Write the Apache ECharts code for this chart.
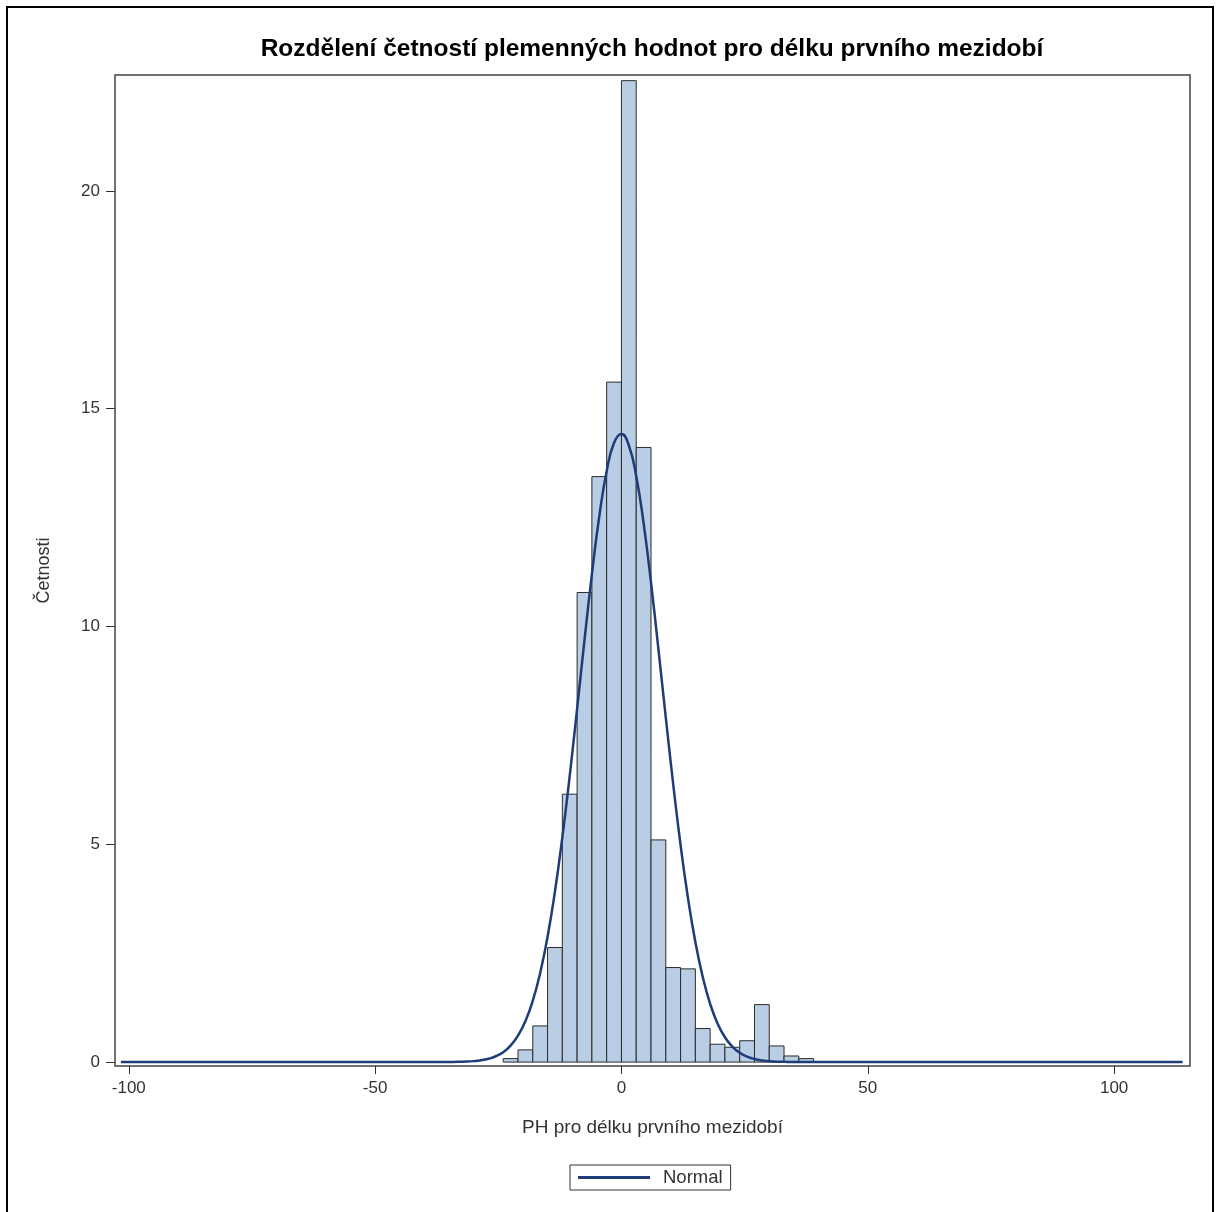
<!DOCTYPE html>
<html>
<head>
<meta charset="utf-8">
<script src="https://cdn.jsdelivr.net/npm/echarts@6/dist/echarts.min.js"></script>
<style>
html,body{margin:0;padding:0;background:#fff;}
#chart{width:1222px;height:1212px;}
</style>
</head>
<body>
<div id="chart"></div>
<script>
// ---- Data ----
const titleText = 'Rozdělení četností plemenných hodnot pro délku prvního mezidobí';
const xAxisName = 'PH pro délku prvního mezidobí';
const yAxisName = 'Četnosti';
const xTicks = [-100, -50, 0, 50, 100];
const yTicks = [0, 5, 10, 15, 20];

// Histogram bins (lower edge, width 3) and percent frequencies
const binWidth = 3;
const binLeft = [-24, -21, -18, -15, -12, -9, -6, -3, 0, 3, 6, 9, 12, 15, 18, 21, 24, 27, 30, 33, 36];
const binPct  = [0.08, 0.28, 0.83, 2.63, 6.15, 10.78, 13.44, 15.61, 22.53, 14.11, 5.10, 2.17, 2.14, 0.77, 0.41, 0.34, 0.49, 1.32, 0.37, 0.14, 0.08];

// Fitted "Normal" curve points
const normalX = [-101.6, -38, -33, -31.5, -30, -28.5, -27, -25.5, -24, -22.5, -21, -19.5, -18, -16.5, -15, -13.5, -12, -10.5, -9, -7.5, -6, -4.5, -3, -1.5, 0,
                 1.5, 3, 4.5, 6, 7.5, 9, 10.5, 12, 13.5, 15, 16.5, 18, 19.5, 21, 22.5, 24, 25.5, 27, 28.5, 30, 31.5, 33, 38, 113.9];
const normalY = [0, 0.001, 0.006, 0.011, 0.022, 0.041, 0.076, 0.134, 0.228, 0.378, 0.606, 0.939, 1.409, 2.047, 2.878, 3.917, 5.160, 6.577, 8.115, 9.691, 11.201, 12.530, 13.566, 14.216, 14.419,
                 14.155, 13.448, 12.367, 11.007, 9.482, 7.906, 6.380, 4.983, 3.767, 2.756, 1.952, 1.337, 0.887, 0.570, 0.354, 0.213, 0.124, 0.070, 0.038, 0.021, 0.010, 0.005, 0.001, 0];

// ---- Build options ----
const histData = binLeft.map((l, i) => [l, l + binWidth, binPct[i]]);
const lineData = normalX.map((x, i) => [x, normalY[i]]);
const FONT = '"Liberation Sans", Arial, sans-serif';
const LINE_COLOR = '#1d3c78';

const chart = echarts.init(document.getElementById('chart'), null, {renderer: 'canvas'});
chart.setOption({
  backgroundColor: '#ffffff',
  animation: false,
  title: {
    text: titleText,
    left: 647, top: 32, textAlign: 'center',
    textStyle: {fontFamily: FONT, fontSize: 24.5, fontWeight: 'bold', color: '#000'}
  },
  graphic: [{
    type: 'rect', silent: true,
    shape: {x: 7, y: 7, width: 1206, height: 1220},
    style: {fill: 'none', stroke: '#000', lineWidth: 2}
  }],
  legend: {
    data: [{name: 'Normal', icon: 'rect'}],
    left: 570, top: 1165,
    orient: 'horizontal',
    borderColor: '#333', borderWidth: 1,
    padding: [3, 8, 3, 8],
    itemWidth: 72, itemHeight: 3,
    textStyle: {fontFamily: FONT, fontSize: 18.5, color: '#333', padding: [0, 0, 0, 8]}
  },
  grid: {
    left: 115, right: 32, top: 75, bottom: 146,
    show: true, borderColor: '#444', borderWidth: 1.5, backgroundColor: '#fff'
  },
  xAxis: {
    type: 'value',
    min: -102.8, max: 115.4,
    name: xAxisName, nameLocation: 'middle', nameGap: 52,
    nameTextStyle: {fontFamily: FONT, fontSize: 19, color: '#333'},
    axisLine: {show: false, onZero: false},
    axisTick: {show: true, customValues: xTicks, length: 8, lineStyle: {color: '#333'}},
    axisLabel: {customValues: xTicks, margin: 14, fontFamily: FONT, fontSize: 17, color: '#333'},
    splitLine: {show: false}
  },
  yAxis: {
    type: 'value',
    min: -0.09, max: 22.66,
    name: yAxisName, nameLocation: 'middle', nameGap: 62,
    nameTextStyle: {fontFamily: FONT, fontSize: 18, color: '#333'},
    axisLine: {show: false, onZero: false},
    axisTick: {show: true, customValues: yTicks, length: 9, lineStyle: {color: '#333'}},
    axisLabel: {customValues: yTicks, margin: 15, fontFamily: FONT, fontSize: 17, color: '#333'},
    splitLine: {show: false}
  },
  series: [{
    type: 'custom',
    name: 'hist',
    data: histData,
    encode: {x: [0, 1], y: 2},
    renderItem: function (params, api) {
      const p0 = api.coord([api.value(0), 0]);
      const p1 = api.coord([api.value(1), api.value(2)]);
      return {
        type: 'rect',
        shape: {x: p0[0], y: p1[1], width: p1[0] - p0[0], height: p0[1] - p1[1]},
        style: {fill: '#b9cde5', stroke: '#2b2b2b', lineWidth: 1}
      };
    },
    z: 2
  }, {
    type: 'line',
    name: 'Normal',
    data: lineData,
    smooth: true,
    symbol: 'none',
    lineStyle: {color: LINE_COLOR, width: 2.5},
    itemStyle: {color: LINE_COLOR},
    z: 3
  }]
});
</script>
</body>
</html>
